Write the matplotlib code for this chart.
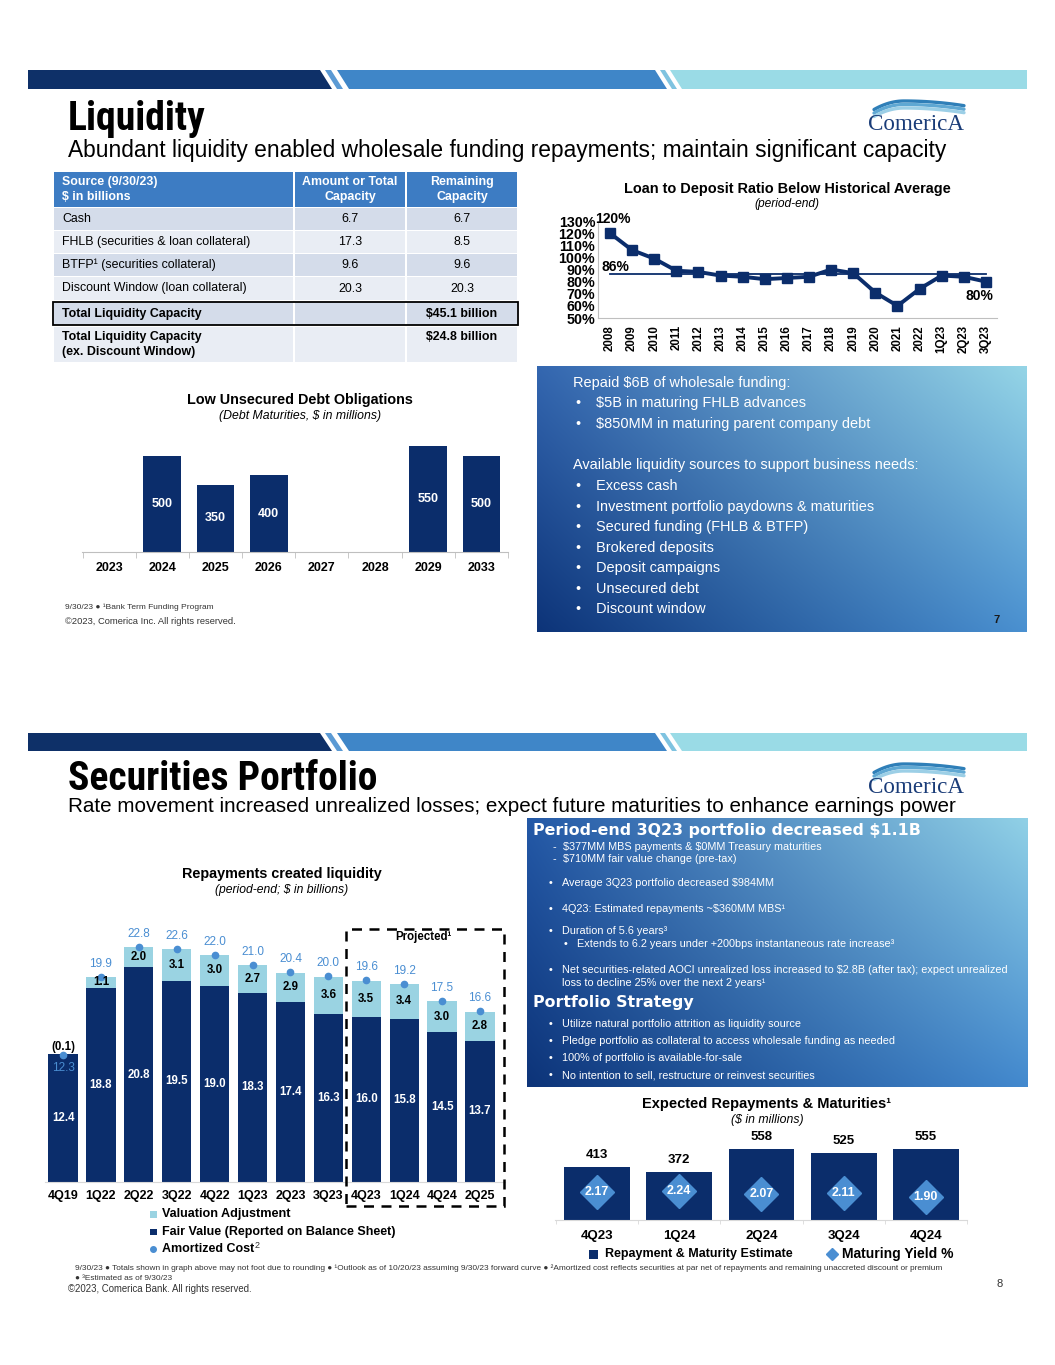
import numpy as np
import matplotlib
matplotlib.use('Agg')
import matplotlib.pyplot as plt
from matplotlib.patches import Rectangle, Polygon
from matplotlib.colors import to_rgb
from matplotlib import font_manager as fm

# ---------------- data ----------------
table_header = ['Source (9/30/23)\n$ in billions', 'Amount or Total\nCapacity', 'Remaining\nCapacity']
table_rows = ['Cash', 'FHLB (securities & loan collateral)', 'BTFP¹ (securities collateral)',
              'Discount Window (loan collateral)']
table_amount = ['6.7', '17.3', '9.6', '20.3']
table_remaining = ['6.7', '8.5', '9.6', '20.3']
total_labels = ['Total Liquidity Capacity', 'Total Liquidity Capacity\n(ex. Discount Window)']
total_values = ['$45.1 billion', '$24.8 billion']

ltd_periods = ['2008', '2009', '2010', '2011', '2012', '2013', '2014', '2015', '2016', '2017',
               '2018', '2019', '2020', '2021', '2022', '1Q23', '2Q23', '3Q23']
ltd_ratio = [120, 106, 99, 89, 88, 85, 84, 82, 83, 84, 90, 87, 71, 60, 74, 85, 84, 80]
ltd_average = 86

debt_years = ['2023', '2024', '2025', '2026', '2027', '2028', '2029', '2033']
debt_maturities = [0, 500, 350, 400, 0, 0, 550, 500]

sec_quarters = ['4Q19', '1Q22', '2Q22', '3Q22', '4Q22', '1Q23', '2Q23', '3Q23',
                '4Q23', '1Q24', '4Q24', '2Q25']
sec_fair_value = [12.4, 18.8, 20.8, 19.5, 19.0, 18.3, 17.4, 16.3, 16.0, 15.8, 14.5, 13.7]
sec_valuation = [-0.1, 1.1, 2.0, 3.1, 3.0, 2.7, 2.9, 3.6, 3.5, 3.4, 3.0, 2.8]
sec_amortized = [12.3, 19.9, 22.8, 22.6, 22.0, 21.0, 20.4, 20.0, 19.6, 19.2, 17.5, 16.6]
sec_first_projected = 8

rep_quarters = ['4Q23', '1Q24', '2Q24', '3Q24', '4Q24']
rep_estimate = [413, 372, 558, 525, 555]
rep_yield = [2.17, 2.24, 2.07, 2.11, 1.90]

box1_lines = [
    ('', 'Repaid $6B of wholesale funding:'),
    ('•', '$5B in maturing FHLB advances'),
    ('•', '$850MM in maturing parent company debt'),
    (None, ''),
    ('', 'Available liquidity sources to support business needs:'),
    ('•', 'Excess cash'),
    ('•', 'Investment portfolio paydowns & maturities'),
    ('•', 'Secured funding (FHLB & BTFP)'),
    ('•', 'Brokered deposits'),
    ('•', 'Deposit campaigns'),
    ('•', 'Unsecured debt'),
    ('•', 'Discount window'),
]

# ---------------- fonts ----------------
W, H = 1055, 1365
SANS = ['Liberation Sans', 'DejaVu Sans']
SERIF = ['Liberation Serif', 'DejaVu Serif']
WIDE = ['DejaVu Sans']
plt.rcParams['font.family'] = SANS


def _is_bold(f):
    w = f.weight
    if isinstance(w, str):
        try:
            w = int(w)
        except ValueError:
            w = 700 if w.lower() in ('bold', 'heavy', 'black', 'extra bold', 'demibold') else 400
    return w >= 600


def find_condensed(bold):
    prefs = ['liberation sans narrow', 'arial narrow', 'roboto condensed', 'open sans condensed',
             'dejavu sans condensed', 'dejavu sans', 'noto sans']
    best, best_rank = None, 99
    for f in fm.fontManager.ttflist:
        nm, fn = f.name.lower(), f.fname.lower()
        cond = ('narrow' in nm or 'condensed' in nm or 'narrow' in fn or 'condensed' in fn
                or str(f.stretch) in ('condensed', 'semi-condensed', 'extra-condensed'))
        if not cond or 'mono' in nm or 'serif' in nm:
            continue
        if 'oblique' in fn or 'italic' in fn or str(f.style) != 'normal':
            continue
        if _is_bold(f) != bold:
            continue
        if 'light' in fn or 'thin' in fn:
            continue
        rank = 50
        for i, p in enumerate(prefs):
            if nm.startswith(p):
                rank = i
                break
        if rank < best_rank:
            best, best_rank = f.fname, rank
    return best


COND_B = find_condensed(True)

fig = plt.figure(figsize=(W / 100, H / 100), dpi=100)
fig.patch.set_facecolor('white')
R = fig.canvas.get_renderer()

NAVY = '#0B2D6B'
LIGHT = '#9AD3E2'
DOT = '#4A8ED2'
HDR_BLUE = '#3D7CC3'
ROW_A = '#D4DCEA'
ROW_B = '#E9EDF4'
GREY = '#BFBFBF'

bg = fig.add_axes([0, 0, 1, 1], zorder=0)
bg.set_xlim(0, W)
bg.set_ylim(H, 0)
bg.axis('off')


def T(x, y, s, size=9, w=None, ha='left', va='center', color='black', weight='normal',
      family=None, style='normal', z=5, fname=None, **kw):
    if fname:
        t = bg.text(x, y, s, ha=ha, va=va, color=color, zorder=z, parse_math=False,
                    fontproperties=fm.FontProperties(fname=fname), **kw)
        t.set_fontsize(size)
    else:
        t = bg.text(x, y, s, fontsize=size, ha=ha, va=va, color=color, fontweight=weight,
                    family=family or SANS, fontstyle=style, zorder=z, parse_math=False, **kw)
    if w is not None:
        bb = t.get_window_extent(R)
        t.set_fontsize(size * w / bb.width)
    return t


def fit(s, w, size=10, **kw):
    t = bg.text(0, 0, s, fontsize=size, parse_math=False, **kw)
    bb = t.get_window_extent(R)
    t.remove()
    return size * w / bb.width


def rect_px(x0, y0, x1, y1):
    return [x0 / W, 1 - y1 / H, (x1 - x0) / W, (y1 - y0) / H]


def header(y0, y1):
    s = 12
    polys = [
        ([(28, y0), (320, y0), (320 + s, y1), (28, y1)], '#0E3068'),
        ([(325, y0), (331, y0), (331 + s, y1), (325 + s, y1)], '#5B9AD4'),
        ([(337, y0), (655, y0), (655 + s, y1), (337 + s, y1)], '#3F86C8'),
        ([(660, y0), (665, y0), (665 + s, y1), (660 + s, y1)], '#7FC3E0'),
        ([(670, y0), (1027, y0), (1027, y1), (670 + s, y1)], '#9ADBE6'),
    ]
    for pts, c in polys:
        bg.add_patch(Polygon(pts, closed=True, color=c, lw=0, zorder=2))


def logo(x, ybase):
    T(x, ybase, 'ComericA', size=15, w=96, va='baseline', color='#1A3C78', family=SERIF)
    for col, dy in [('#2F7FB8', 0), ('#5FA8D3', 3.5), ('#9CCFE6', 7)]:
        px = np.linspace(x + 6, x + 96, 80)
        peak = x + 36
        a = np.where(px < peak, 0.0095, 0.0013)
        py = ybase - 29 + dy + a * (px - peak) ** 2
        bg.plot(px, py, color=col, lw=2.4, solid_capstyle='round', zorder=3)


def grad_box(x0, y0, x1, y1, tl, tr, bl, br):
    n = 80
    u = np.linspace(0, 1, n)[None, :, None]
    v = np.linspace(0, 1, n)[:, None, None]
    tl, tr, bl, br = [np.array(to_rgb(c)) for c in (tl, tr, bl, br)]
    img = (1 - v) * ((1 - u) * tl + u * tr) + v * ((1 - u) * bl + u * br)
    bg.imshow(img, extent=(x0, x1, y1, y0), aspect='auto', interpolation='bilinear', zorder=1)
    bg.set_xlim(0, W)
    bg.set_ylim(H, 0)


def title(y_base, s, w):
    if COND_B:
        sz = min(28.5, fit(s, w, size=26, fontproperties=fm.FontProperties(fname=COND_B, size=26)))
        T(68, y_base, s, size=sz, va='baseline', fname=COND_B)
    else:
        T(68, y_base, s, size=26, w=w, va='baseline', weight='bold')


def subtitle(y_base, s, w):
    T(68, y_base, s, size=15, w=w, va='baseline')


# =============== SLIDE 1 ===============
header(70, 89)
title(130, 'Liquidity', 140)
subtitle(157, 'Abundant liquidity enabled wholesale funding repayments; maintain significant capacity', 878)
logo(868, 130)

# ---- table ----
cols = [(53, 294), (294, 406), (406, 518)]
row_bands = [(172, 207, HDR_BLUE), (208, 230, ROW_A), (231, 253, ROW_B), (254, 276, ROW_A),
             (277, 300, ROW_B), (302, 325, ROW_A), (327, 362, ROW_B)]
for (y0, y1, c) in row_bands:
    for (cx0, cx1) in cols:
        bg.add_patch(Rectangle((cx0 + 1, y0), cx1 - cx0 - 2, y1 - y0, color=c, lw=0, zorder=2))
bg.add_patch(Rectangle((53, 302), 465, 23, fill=False, ec='black', lw=1.3, zorder=3))

hs = fit('Source (9/30/23)', 95, weight='bold', family=SANS)
for txt, xx, ha in [(table_header[0], 62, 'left'), (table_header[1], 350, 'center'),
                    (table_header[2], 462, 'center')]:
    l1, l2 = txt.split('\n')
    T(xx, 182.3, l1, size=hs, weight='bold', color='white', ha=ha)
    T(xx, 197, l2, size=hs, weight='bold', color='white', ha=ha)
rs = fit('FHLB (securities & loan collateral)', 188, family=SANS)
for (y0, y1, c), lab, a, r in zip(row_bands[1:5], table_rows, table_amount, table_remaining):
    yc = (y0 + y1) / 2
    T(62, yc, lab, size=rs)
    T(350, yc, a, size=rs, ha='center')
    T(462, yc, r, size=rs, ha='center')
T(62, 314, total_labels[0], size=rs, weight='bold')
T(462, 314, total_values[0], size=rs, weight='bold', ha='center')
T(62, 337, total_labels[1].split('\n')[0], size=rs, weight='bold')
T(62, 352, total_labels[1].split('\n')[1], size=rs, weight='bold')
T(462, 337, total_values[1], size=rs, weight='bold', ha='center')

# ---- loan to deposit line chart ----
T(787, 189, 'Loan to Deposit Ratio Below Historical Average', size=10, w=325, ha='center', weight='bold')
T(787, 204.5, '(period-end)', size=8, w=66, ha='center', style='italic')
ax1 = fig.add_axes(rect_px(598, 221, 997, 318), facecolor='none')
xl = np.arange(len(ltd_periods))
ax1.plot([xl[0], xl[-1]], [ltd_average, ltd_average], color=NAVY, lw=1.3, zorder=2)
ax1.plot(xl, ltd_ratio, color=NAVY, lw=2.8, marker='s', ms=6.8, zorder=3)
ax1.set_xlim(-0.54, 17.5)
ax1.set_ylim(50, 130)
ax1.set_yticks(np.arange(50, 131, 10))
ax1.set_yticklabels([f'{v}%' for v in range(50, 131, 10)], fontweight='bold', fontsize=10.3)
ax1.set_xticks(xl)
ax1.set_xticklabels(ltd_periods, rotation=90, fontweight='bold', fontsize=8.3)
ax1.tick_params(axis='both', length=0, pad=2)
ax1.tick_params(axis='x', pad=5)
for sp in ['top', 'right']:
    ax1.spines[sp].set_visible(False)
for sp in ['left', 'bottom']:
    ax1.spines[sp].set_color(GREY)
ax1.annotate(f'{ltd_ratio[0]}%', (xl[0], ltd_ratio[0]), xytext=(3, 14), textcoords='offset pixels',
             ha='center', va='center', fontweight='bold', fontsize=10)
ax1.annotate(f'{ltd_average}%', (xl[0], ltd_average), xytext=(5, 7), textcoords='offset pixels',
             ha='center', va='center', fontweight='bold', fontsize=10)
ax1.annotate(f'{ltd_ratio[-1]}%', (xl[-1], ltd_ratio[-1]), xytext=(-7, -14), textcoords='offset pixels',
             ha='center', va='center', fontweight='bold', fontsize=10)

# ---- debt maturities bar chart ----
T(300, 400, 'Low Unsecured Debt Obligations', size=10, w=227, ha='center', weight='bold')
T(300, 416, '(Debt Maturities, $ in millions)', size=8, w=163, ha='center', style='italic')
ax2 = fig.add_axes(rect_px(82, 430, 508, 552), facecolor='none')
xd = np.arange(len(debt_years))
ax2.bar(xd, debt_maturities, width=0.71, color=NAVY, zorder=2)
for i, v in enumerate(debt_maturities):
    if v > 0:
        ax2.text(i, v / 2, f'{v}', ha='center', va='center', color='white', fontweight='bold', fontsize=9)
ax2.set_xlim(-0.51, 7.49)
ax2.set_ylim(0, 635)
ax2.set_yticks([])
ax2.set_xticks(xd)
ax2.set_xticklabels(debt_years, fontweight='bold', fontsize=9)
ax2.set_xticks(np.arange(-0.5, 8, 1), minor=True)
ax2.tick_params(axis='x', which='major', length=0, pad=7)
ax2.tick_params(axis='x', which='minor', length=4, color=GREY)
for sp in ['top', 'right', 'left']:
    ax2.spines[sp].set_visible(False)
ax2.spines['bottom'].set_color(GREY)

T(65, 607, '9/30/23 ● ¹Bank Term Funding Program', size=5.5, w=148, color='#333333')
T(65, 622, '©2023, Comerica Inc. All rights reserved.', size=6.5, w=170, color='#333333')

# ---- blue text box 1 ----
grad_box(537, 366, 1027, 632, '#3467B0', '#94D4E6', '#0D3479', '#4A90D0')
b1 = fit('Investment portfolio paydowns & maturities', 277, family=SANS)
ys1 = [382.7, 403.3, 424, None, 465, 486, 506.7, 526.7, 547.7, 568.3, 589, 609.3]
for (bul, s), yy in zip(box1_lines, ys1):
    if bul is None:
        continue
    if bul:
        T(575, yy, bul, size=b1, color='white', z=6)
        T(596, yy, s, size=b1, color='white', z=6)
    else:
        T(573, yy, s, size=b1, color='white', z=6)
T(997, 620, '7', size=8, ha='center', weight='bold', color='#1A1A1A', z=6)

# =============== SLIDE 2 ===============
header(733, 751)
title(790, 'Securities Portfolio', 317)
subtitle(812, 'Rate movement increased unrealized losses; expect future maturities to enhance earnings power', 892)
logo(868, 793)

# ---- securities stacked bars ----
T(282, 874, 'Repayments created liquidity', size=10, w=201, ha='center', weight='bold')
T(282, 890.5, '(period-end; $ in billions)', size=8, w=135, ha='center', style='italic')
ax3 = fig.add_axes(rect_px(45, 920, 505, 1181.7), facecolor='none')
xs = np.arange(len(sec_quarters))
fv = np.array(sec_fair_value)
va_ = np.array(sec_valuation)
ax3.bar(xs, fv, width=0.77, color=NAVY, zorder=2)
ax3.bar(xs, np.clip(va_, 0, None), bottom=fv, width=0.77, color=LIGHT, zorder=2)
ax3.plot(xs, sec_amortized, 'o', color=DOT, ms=4.5, zorder=4)
for i in range(len(xs)):
    ax3.text(i, fv[i] / 2, f'{fv[i]:.1f}', ha='center', va='center', color='white',
             fontweight='bold', fontsize=8.3, zorder=5)
    if va_[i] >= 0:
        ax3.text(i, fv[i] + va_[i] / 2, f'{va_[i]:.1f}', ha='center', va='center', color='black',
                 fontweight='bold', fontsize=8.3, zorder=5)
        ax3.annotate(f'{sec_amortized[i]:.1f}', (i, sec_amortized[i]), xytext=(0, 13),
                     textcoords='offset pixels', ha='center', va='center', color=DOT, fontsize=8.5)
    else:
        ax3.annotate(f'({abs(va_[i]):.1f})', (i, fv[i]), xytext=(0, 7), textcoords='offset pixels',
                     ha='center', va='center', color='black', fontweight='bold', fontsize=8.3)
        ax3.annotate(f'{sec_amortized[i]:.1f}', (i, sec_amortized[i]), xytext=(0, -13),
                     textcoords='offset pixels', ha='center', va='center', color=DOT, fontsize=8.5)
ax3.set_xlim(-0.475, 11.66)
ax3.set_ylim(0, 25.4)
ax3.set_yticks([])
ax3.set_xticks(xs)
ax3.set_xticklabels(sec_quarters, fontweight='bold', fontsize=9)
ax3.tick_params(axis='x', length=0, pad=6)
for sp in ['top', 'right', 'left']:
    ax3.spines[sp].set_visible(False)
ax3.spines['bottom'].set_color('#D9D9D9')
ax3.add_patch(Rectangle((sec_first_projected - 0.53, -2.36), 4.16, 26.92, fill=False, ec='black',
                        lw=1.8, ls=(0, (4, 3)), clip_on=False, zorder=6))
ax3.annotate('Projected¹', (sec_first_projected + 1.5, 24.56), xytext=(0, -8), textcoords='offset pixels',
             ha='center', va='center', fontweight='bold', fontsize=8.3)

# legend
bg.add_patch(Rectangle((150, 1211), 6.5, 6.5, color=LIGHT, lw=0, zorder=3))
bg.add_patch(Rectangle((150, 1228.5), 6.5, 6.5, color=NAVY, lw=0, zorder=3))
bg.plot([153.3], [1249], 'o', color=DOT, ms=4, zorder=3)
T(162, 1214, 'Valuation Adjustment', size=9, w=128, weight='bold')
T(162, 1231.7, 'Fair Value (Reported on Balance Sheet)', size=9, weight='bold')
T(162, 1249, 'Amortized Cost', size=9, weight='bold')
T(255, 1246, '2', size=6.5, color='#333333')

# ---- blue text box 2 ----
grad_box(527, 818, 1028, 1087, '#2459A7', '#90D0E6', '#0D3479', '#4389CE')
hb = fit('Period-end 3Q23 portfolio decreased $1.1B', 390, weight='bold', family=WIDE)
T(533, 830, 'Period-end 3Q23 portfolio decreased $1.1B', size=hb, weight='bold', family=WIDE, color='white', z=6)
T(533, 1002.7, 'Portfolio Strategy', size=hb, weight='bold', family=WIDE, color='white', z=6)
sb = fit('Net securities-related AOCI unrealized loss increased to $2.8B (after tax); expect unrealized',
         445, family=SANS)
box2_items = [
    (553, 563, 846.7, '-', '$377MM MBS payments & $0MM Treasury maturities'),
    (553, 563, 859.3, '-', '$710MM fair value change (pre-tax)'),
    (549, 562, 883.3, '•', 'Average 3Q23 portfolio decreased $984MM'),
    (549, 562, 909.3, '•', '4Q23: Estimated repayments ~$360MM MBS¹'),
    (549, 562, 931, '•', 'Duration of 5.6 years³'),
    (564, 577, 944, '•', 'Extends to 6.2 years under +200bps instantaneous rate increase³'),
    (549, 562, 970, '•', 'Net securities-related AOCI unrealized loss increased to $2.8B (after tax); expect unrealized'),
    (549, 562, 982.7, '', 'loss to decline 25% over the next 2 years¹'),
    (549, 562, 1023.7, '•', 'Utilize natural portfolio attrition as liquidity source'),
    (549, 562, 1041, '•', 'Pledge portfolio as collateral to access wholesale funding as needed'),
    (549, 562, 1058.3, '•', '100% of portfolio is available-for-sale'),
    (549, 562, 1075, '•', 'No intention to sell, restructure or reinvest securities'),
]
for bx, tx, yy, bul, s in box2_items:
    if bul:
        T(bx, yy, bul, size=sb, color='white', z=6)
    T(tx, yy, s, size=sb, color='white', z=6)

# ---- expected repayments chart ----
T(767, 1104, 'Expected Repayments & Maturities¹', size=10, w=248, ha='center', weight='bold')
T(767, 1120, '($ in millions)', size=8, w=73, ha='center', style='italic')
ax4 = fig.add_axes(rect_px(555, 1125, 967, 1220), facecolor='none')
xr = np.arange(len(rep_quarters))
ax4.bar(xr, rep_estimate, width=0.8, color=NAVY, zorder=2)
for i, v in enumerate(rep_estimate):
    ax4.annotate(f'{v}', (i, v), xytext=(0, 12), textcoords='offset pixels', ha='center', va='center',
                 fontweight='bold', fontsize=9.5)
ax4.set_xlim(-0.51, 4.49)
ax4.set_ylim(0, 742)
ax4.set_yticks([])
ax4.set_xticks(xr)
ax4.set_xticklabels(rep_quarters, fontweight='bold', fontsize=9.5)
ax4.set_xticks(np.arange(-0.5, 5, 1), minor=True)
ax4.tick_params(axis='x', which='major', length=0, pad=7)
ax4.tick_params(axis='x', which='minor', length=3, color='#D9D9D9')
for sp in ['top', 'right', 'left']:
    ax4.spines[sp].set_visible(False)
ax4.spines['bottom'].set_color('#D9D9D9')
ax5 = ax4.twinx()
ax5.set_ylim(0.512, 6.17)
ax5.plot(xr, rep_yield, 'D', color=DOT, ms=17, zorder=4)
for i, v in enumerate(rep_yield):
    ax5.text(i, v, f'{v:.2f}', ha='center', va='center', color='white', fontweight='bold', fontsize=9, zorder=5)
ax5.axis('off')

bg.add_patch(Rectangle((588.5, 1249.5), 9, 9, color=NAVY, lw=0, zorder=3))
T(605, 1254, 'Repayment & Maturity Estimate', size=10, w=187, weight='bold')
bg.plot([831.7], [1254], 'D', color=DOT, ms=6.5, zorder=3)
T(842, 1254, 'Maturing Yield %', size=10, weight='bold')

fn = fit('9/30/23 ● Totals shown in graph above may not foot due to rounding ● ¹Outlook as of 10/20/23 '
         'assuming 9/30/23 forward curve ● ²Amortized cost reflects securities at par net of repayments and '
         'remaining unaccreted discount or premium', 880, size=5, family=SANS)
T(75, 1268, '9/30/23 ● Totals shown in graph above may not foot due to rounding ● ¹Outlook as of 10/20/23 '
  'assuming 9/30/23 forward curve ● ²Amortized cost reflects securities at par net of repayments and '
  'remaining unaccreted discount or premium', size=fn, color='#333333')
T(75, 1279, '● ³Estimated as of 9/30/23', size=fn, color='#333333')
T(68, 1289.5, '©2023, Comerica Bank. All rights reserved.', size=6.5, w=184, color='#333333')
T(1000, 1284, '8', size=8, ha='center', color='#333333')

fig.savefig('out.png', dpi=100)
